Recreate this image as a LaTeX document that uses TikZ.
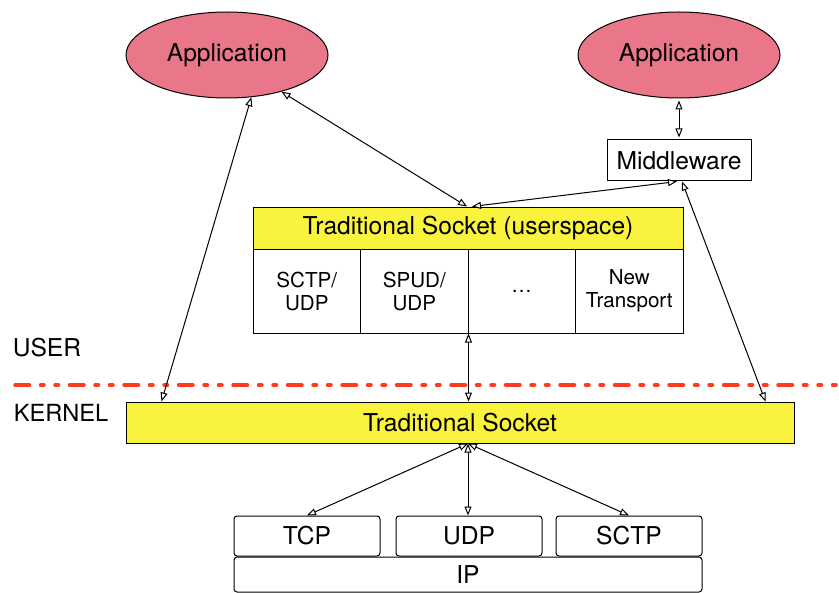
\documentclass[tikz,border=0pt]{standalone}
\usepackage{fontspec}
\setmainfont{TeX Gyre Heros}
\usetikzlibrary{shapes.geometric,arrows.meta}
\definecolor{apppink}{HTML}{EA7689}
\definecolor{sockyellow}{HTML}{FAF33E}
\definecolor{splitred}{HTML}{FF3B1F}

\begin{document}
\begin{tikzpicture}[x=0.5pt,y=-0.5pt,
	app/.style={ellipse,draw,line width=0.5pt,fill=apppink,minimum width=101pt,minimum height=43pt,inner sep=0pt,font=\fontsize{12.3}{14}\selectfont},
	box/.style={draw,line width=0.5pt,rectangle,inner sep=0pt,font=\fontsize{12.3}{14}\selectfont},
	cell/.style={draw,line width=0.5pt,rectangle,inner sep=0pt,minimum width=53.75pt,minimum height=42pt,align=center,font=\fontsize{10.3}{11.5}\selectfont},
	proto/.style={draw,line width=0.5pt,rounded corners=1.5pt,inner sep=0pt,minimum width=73pt,minimum height=20pt,font=\fontsize{12.3}{14}\selectfont},
	link/.style={line width=0.5pt,{Triangle[fill=white,length=4.5pt,width=3.5pt]}-{Triangle[fill=white,length=4.5pt,width=3.5pt]}}]
	\useasboundingbox (0,0) rectangle (839,593);
	\node[app] (app1) at (227,55) {Application};
	\node[app] (app2) at (679,55) {Application};
	\node[box,minimum width=72pt,minimum height=20.5pt] (mw) at (679,160.5) {Middleware};
	\node[box,fill=sockyellow,minimum width=215pt,minimum height=21pt] (us) at (468,228) {Traditional Socket (userspace)};
	\node[cell] (c1) at (306.75,291) {SCTP/\\UDP};
	\node[cell] (c2) at (414.25,291) {SPUD/\\UDP};
	\node[cell] (c3) at (521.75,291) {\dots};
	\node[cell] (c4) at (629.25,291) {New\\Transport};
	\node[box,fill=sockyellow,minimum width=334pt,minimum height=20.5pt] (ks) at (460,422.5) {Traditional Socket};
	\node[proto] (tcp) at (307,536) {TCP};
	\node[proto] (udp) at (469,536) {UDP};
	\node[proto] (sctp) at (629,536) {SCTP};
	\node[proto,minimum width=234pt,minimum height=17.5pt] (ip) at (468,574.5) {IP};
	\node[font=\fontsize{12.3}{14}\selectfont] (user) at (47,348) {USER};
	\node[font=\fontsize{11.8}{14}\selectfont] (kernel) at (61,413) {KERNEL};
	\draw[splitred,line width=1.75pt,line cap=round,dash pattern=on 7.25pt off 5.5pt on 1.75pt off 5.5pt on 1.75pt off 5.5pt] (15,385) -- (836,385);
	\coordinate (kb) at ([xshift=4pt]ks.south);
	\draw[link] (app1.-60) -- ([xshift=18pt]ks.north west);
	\draw[link] (app1.-34) -- ([xshift=-0.5pt]us.north);
	\draw[link] ([xshift=2pt]us.north) -- ([xshift=-1pt]mw.south);
	\draw[link] ([xshift=1.5pt]mw.south) -- ([xshift=-14.5pt]ks.north east);
	\draw[link,shorten <=1pt,shorten >=1pt] (app2.south) -- (mw.north);
	\draw[link] (c2.south east) -- (c2.south east |- ks.north);
	\draw[link] (kb) -- (tcp.north);
	\draw[link] (kb) -- (kb |- udp.north);
	\draw[link] (kb) -- (sctp.north);
\end{tikzpicture}
\end{document}
